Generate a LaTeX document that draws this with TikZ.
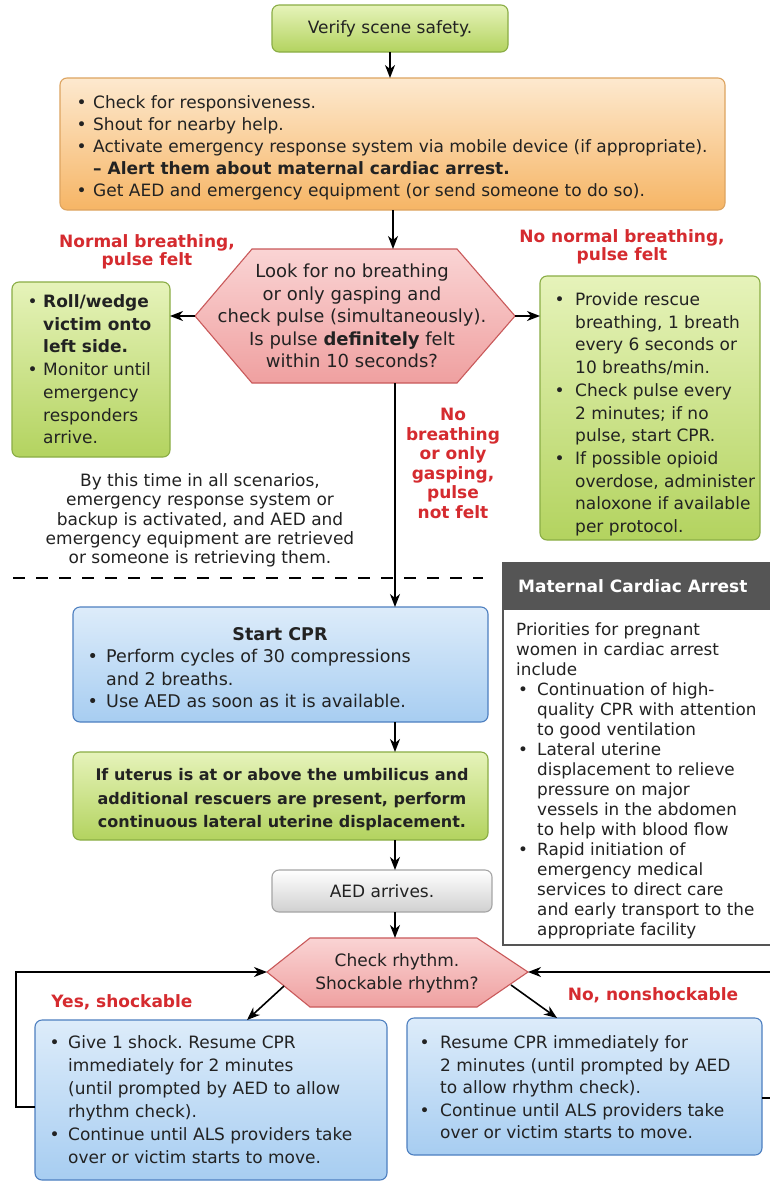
\documentclass[tikz,border=0pt]{standalone}
\usepackage{fontspec}
\setmainfont{DejaVu Sans}
\usetikzlibrary{arrows.meta}
\frenchspacing
\definecolor{txt}{HTML}{222222}
\definecolor{grnT}{HTML}{E6F3BA}
\definecolor{grnB}{HTML}{B3D35F}
\definecolor{grnD}{HTML}{8AAD45}
\definecolor{orT}{HTML}{FDE9CF}
\definecolor{orB}{HTML}{F6B565}
\definecolor{orD}{HTML}{DDA460}
\definecolor{pkT}{HTML}{FAD4D4}
\definecolor{pkB}{HTML}{EFA0A0}
\definecolor{pkD}{HTML}{C9595A}
\definecolor{blT}{HTML}{DDECFA}
\definecolor{blB}{HTML}{A7CDF1}
\definecolor{blD}{HTML}{4D7FC0}
\definecolor{gyT}{HTML}{FFFFFF}
\definecolor{gyB}{HTML}{D0D0D0}
\definecolor{gyD}{HTML}{A5A5A5}
\definecolor{redL}{HTML}{D52B2F}
\definecolor{hdr}{HTML}{555555}
\begin{document}
\begin{tikzpicture}[x=1pt,y=-1pt,
  box/.style={rounded corners=7pt, line width=1.1pt, inner sep=0pt, outer sep=0pt, text=txt},
  gbox/.style={box, draw=grnD, top color=grnT, bottom color=grnB},
  obox/.style={box, draw=orD, top color=orT, bottom color=orB},
  bbox/.style={box, draw=blD, top color=blT, bottom color=blB},
  abox/.style={box, draw=gyD, top color=gyT, bottom color=gyB},
  hexs/.style={draw=pkD, line width=1.1pt, top color=pkT, bottom color=pkB},
  arr/.style={-{Stealth[length=13pt,width=10pt,inset=4pt]}, line width=1.6pt, black},
  lbl/.style={text=redL, inner sep=0pt, anchor=base},
  tx/.style={inner sep=0pt, anchor=base west, text=txt},
  ctx/.style={inner sep=0pt, anchor=base, text=txt},
  sep/.style={line width=1.8pt, dash pattern=on 12pt off 11pt}
]
\useasboundingbox (0,0) rectangle (770,1181);
\clip (0,0) rectangle (770,1181);
\fill[white] (0,0) rectangle (770,1181);

% Verify scene safety
\node[gbox, minimum width=236pt, minimum height=47pt, font=\fontsize{17}{20}\selectfont] (verify) at (390,28.5) {Verify scene safety.};

% Orange box
\node[obox, minimum width=665pt, minimum height=132pt] (check) at (392.5,144) {};
\node[tx, font=\fontsize{17}{22}\selectfont] (checkt) at (76.5,108.5) {\begin{tabular}[t]{@{}p{16.5pt}@{}l@{}}
\textbullet & Check for responsiveness.\\
\textbullet & Shout for nearby help.\\
\textbullet & Activate emergency response system via mobile device (if appropriate).\\
 & \textbf{– Alert them about maternal cardiac arrest.}\\
\textbullet & Get AED and emergency equipment (or send someone to do so).
\end{tabular}};
\draw[arr] (verify.south) -- (verify.south |- check.north);

% Hexagon 1
\coordinate (h1w) at (195,316);
\coordinate (h1nw) at (252,249);
\coordinate (h1ne) at (457,249);
\coordinate (h1e) at (515,316);
\coordinate (h1se) at (457,383);
\coordinate (h1sw) at (252,383);
\coordinate (h1in) at (393,249);
\coordinate (h1out) at (395,383);
\path[hexs] (h1w) -- (h1nw) -- (h1ne) -- (h1e) -- (h1se) -- (h1sw) -- cycle;
\node[ctx, font=\fontsize{18}{22.5}\selectfont] (h1t) at (352,277.5) {\begin{tabular}[t]{@{}c@{}}Look for no breathing\\or only gasping and\\check pulse (simultaneously).\\Is pulse \textbf{definitely} felt\\within 10 seconds?\end{tabular}};
\draw[arr] (check.south -| h1in) -- (h1in);

% Left green box
\node[gbox, minimum width=158pt, minimum height=175pt] (lgreen) at (91,369.5) {};
\node[tx, font=\fontsize{17}{22.7}\selectfont] (lgreent) at (27.5,307.5) {\begin{tabular}[t]{@{}p{15.5pt}@{}l@{}}
\textbullet & \textbf{Roll/wedge}\\
 & \textbf{victim onto}\\
 & \textbf{left side.}\\
\textbullet & Monitor until\\
 & emergency\\
 & responders\\
 & arrive.
\end{tabular}};
\draw[arr] (h1w) -- (lgreen.east |- h1w);

% Right green box
\node[gbox, minimum width=220pt, minimum height=264pt] (rgreen) at (650,408) {};
\node[tx, font=\fontsize{17}{22.7}\selectfont] (rgreent) at (554.5,305.5) {\begin{tabular}[t]{@{}p{20.5pt}@{}l@{}}
\textbullet & Provide rescue\\
 & breathing, 1 breath\\
 & every 6 seconds or\\
 & 10 breaths/min.\\
\textbullet & Check pulse every\\
 & 2 minutes; if no\\
 & pulse, start CPR.\\
\textbullet & If possible opioid\\
 & overdose, administer\\
 & naloxone if available\\
 & per protocol.
\end{tabular}};
\draw[arr] (h1e) -- (rgreen.west |- h1e);

% Red labels
\node[lbl, font=\bfseries\fontsize{17}{17.5}\selectfont] (lab1) at (147,247.5) {\begin{tabular}[t]{@{}c@{}}Normal breathing,\\pulse felt\end{tabular}};
\node[lbl, font=\bfseries\fontsize{17}{18}\selectfont] (lab2) at (622,242.5) {\begin{tabular}[t]{@{}c@{}}No normal breathing,\\pulse felt\end{tabular}};
\node[lbl, font=\bfseries\fontsize{17}{19.6}\selectfont] (lab3) at (453,420.5) {\begin{tabular}[t]{@{}c@{}}No\\breathing\\or only\\gasping,\\pulse\\not felt\end{tabular}};

% Note
\node[ctx, font=\fontsize{17}{19.3}\selectfont] (note) at (200,486.5) {\begin{tabular}[t]{@{}c@{}}By this time in all scenarios,\\emergency response system or\\backup is activated, and AED and\\emergency equipment are retrieved\\or someone is retrieving them.\end{tabular}};

% Dashed separator
\coordinate (sepa) at (13,578);
\coordinate (sepb) at (483,578);
\draw[sep] (sepa) -- (sepb);

% Start CPR
\node[bbox, minimum width=415pt, minimum height=115pt] (cpr) at (280.5,664.5) {};
\node[ctx, font=\bfseries\fontsize{17.5}{22.5}\selectfont] (cprh) at (280,640.5) {Start CPR};
\node[tx, font=\fontsize{17.5}{22.5}\selectfont] (cprt) at (87.5,662.5) {\begin{tabular}[t]{@{}p{18.5pt}@{}l@{}}
\textbullet & Perform cycles of 30 compressions\\
 & and 2 breaths.\\
\textbullet & Use AED as soon as it is available.
\end{tabular}};
\draw[arr] (h1out) -- (h1out |- cpr.north);

% Uterus box
\node[gbox, minimum width=415pt, minimum height=88pt] (uter) at (280.5,796) {};
\node[ctx, font=\bfseries\fontsize{16}{23.5}\selectfont] (utert) at (282,780.5) {\begin{tabular}[t]{@{}c@{}}If uterus is at or above the umbilicus and\\additional rescuers are present, perform\\continuous lateral uterine displacement.\end{tabular}};
\draw[arr] (cpr.south -| h1out) -- (uter.north -| h1out);

% AED arrives
\node[abox, minimum width=220pt, minimum height=42pt, font=\fontsize{17}{20}\selectfont] (aed) at (382,891) {AED arrives.};
\draw[arr] (uter.south -| h1out) -- (aed.north -| h1out);

% Maternal cardiac arrest box
\node[draw=hdr, line width=1.2pt, fill=white, minimum width=280pt, minimum height=382pt, inner sep=0pt] (mat) at (643,754) {};
\node[fill=hdr, minimum width=280pt, minimum height=47pt, inner sep=0pt] (math) at (643,586.5) {};
\node[tx, text=white, font=\bfseries\fontsize{17}{20}\selectfont] (matht) at (518,592.5) {Maternal Cardiac Arrest};
\node[tx, font=\fontsize{16.8}{20}\selectfont] (matt) at (516,635.5) {\begin{tabular}[t]{@{}p{21pt}@{}l@{}}
\multicolumn{2}{@{}l@{}}{Priorities for pregnant}\\
\multicolumn{2}{@{}l@{}}{women in cardiac arrest}\\
\multicolumn{2}{@{}l@{}}{include}\\
\hspace{2pt}\textbullet & Continuation of high-\\
 & quality CPR with attention\\
 & to good ventilation\\
\hspace{2pt}\textbullet & Lateral uterine\\
 & displacement to relieve\\
 & pressure on major\\
 & vessels in the abdomen\\
 & to help with blood flow\\
\hspace{2pt}\textbullet & Rapid initiation of\\
 & emergency medical\\
 & services to direct care\\
 & and early transport to the\\
 & appropriate facility
\end{tabular}};

% Hexagon 2
\coordinate (h2w) at (267,972);
\coordinate (h2nw) at (310,938);
\coordinate (h2ne) at (477,938);
\coordinate (h2e) at (528,972);
\coordinate (h2se) at (477,1007);
\coordinate (h2sw) at (310,1007);
\coordinate (h2n) at (395,938);
\path[hexs] (h2w) -- (h2nw) -- (h2ne) -- (h2e) -- (h2se) -- (h2sw) -- cycle;
\node[ctx, font=\fontsize{17}{23}\selectfont] (h2t) at (397,966.5) {\begin{tabular}[t]{@{}c@{}}Check rhythm.\\Shockable rhythm?\end{tabular}};
\draw[arr] (aed.south -| h2n) -- (h2n);

% Bottom boxes
\node[bbox, minimum width=352pt, minimum height=160pt] (bl) at (211,1100) {};
\node[tx, font=\fontsize{17}{23}\selectfont] (blt) at (49.5,1048.5) {\begin{tabular}[t]{@{}p{18.5pt}@{}l@{}}
\textbullet & Give 1 shock. Resume CPR\\
 & immediately for 2 minutes\\
 & (until prompted by AED to allow\\
 & rhythm check).\\
\textbullet & Continue until ALS providers take\\
 & over or victim starts to move.
\end{tabular}};
\node[bbox, minimum width=355pt, minimum height=137pt] (br) at (584.5,1086.5) {};
\node[tx, font=\fontsize{17}{22.5}\selectfont] (brt) at (419.5,1048.5) {\begin{tabular}[t]{@{}p{20.5pt}@{}l@{}}
\textbullet & Resume CPR immediately for\\
 & 2 minutes (until prompted by AED\\
 & to allow rhythm check).\\
\textbullet & Continue until ALS providers take\\
 & over or victim starts to move.
\end{tabular}};

\node[lbl, font=\bfseries\fontsize{17}{20}\selectfont] (yes) at (122,1007.5) {Yes, shockable};
\node[lbl, font=\bfseries\fontsize{17}{20}\selectfont] (no) at (653,1000.5) {No, nonshockable};

\coordinate (d1a) at (284,986);
\coordinate (d1b) at (247,1020);
\coordinate (d2a) at (511,985);
\coordinate (d2b) at (557,1018);
\draw[arr] (d1a) -- (d1b);
\draw[arr] (d2a) -- (d2b);

% Loops
\draw[arr] (bl.west |- 0,1107) -- (16,1107) |- (h2w);
\draw[arr] (br.east |- 0,1098) -- (772,1098) |- (h2e);
\end{tikzpicture}
\end{document}
